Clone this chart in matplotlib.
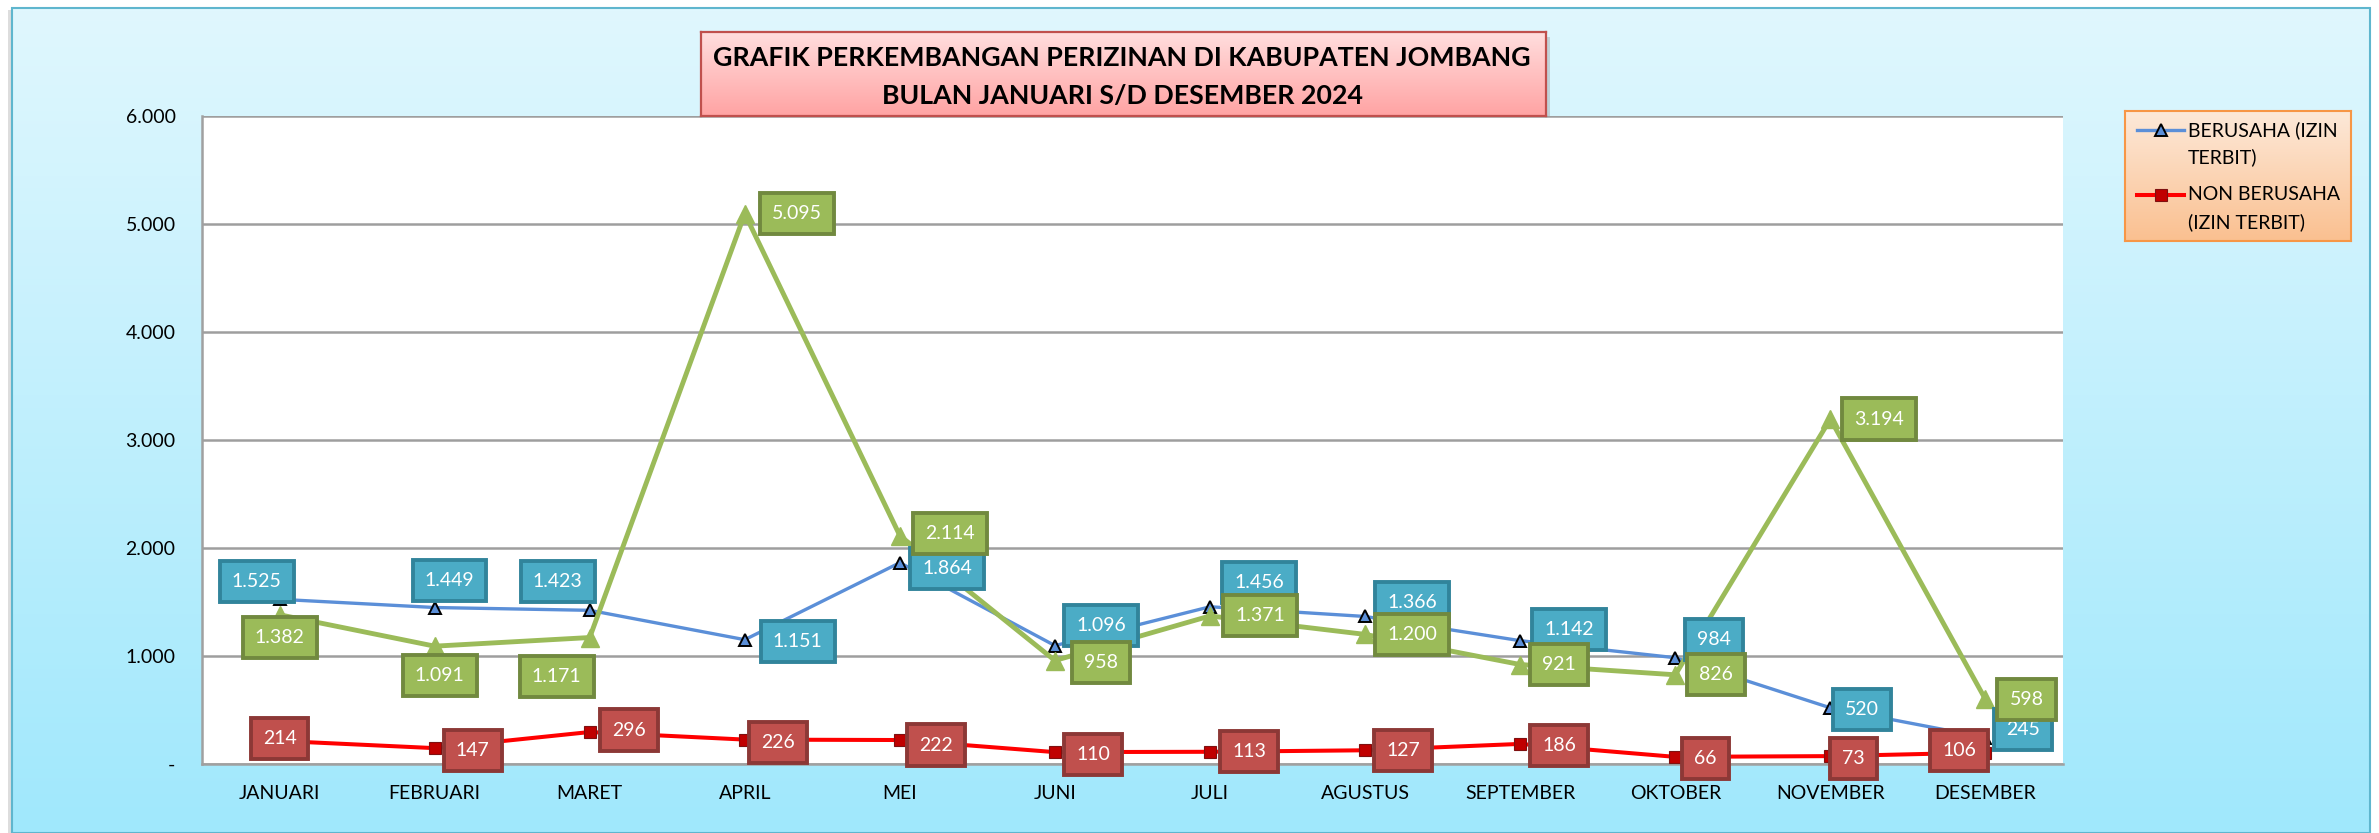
import numpy as np
import matplotlib.pyplot as plt
from matplotlib.colors import LinearSegmentedColormap
from matplotlib.patches import Rectangle
from matplotlib.lines import Line2D

plt.rcParams['font.family'] = ['Lato', 'DejaVu Sans']

# data
BULAN = ['JANUARI', 'FEBRUARI', 'MARET', 'APRIL', 'MEI', 'JUNI', 'JULI',
         'AGUSTUS', 'SEPTEMBER', 'OKTOBER', 'NOVEMBER', 'DESEMBER']
BERUSAHA = [1525, 1449, 1423, 1151, 1864, 1096, 1456, 1366, 1142, 984, 520, 245]
NON_BERUSAHA = [214, 147, 296, 226, 222, 110, 113, 127, 186, 66, 73, 106]
HIJAU = [1382, 1091, 1171, 5095, 2114, 958, 1371, 1200, 921, 826, 3194, 598]
Y_TICKS = [0, 1000, 2000, 3000, 4000, 5000, 6000]
LEG_BERUSAHA = ['BERUSAHA (IZIN', 'TERBIT)']
LEG_NON = ['NON BERUSAHA', '(IZIN TERBIT)']
JUDUL = ['GRAFIK PERKEMBANGAN PERIZINAN DI KABUPATEN JOMBANG',
         'BULAN JANUARI S/D DESEMBER 2024']

# label offsets in pixels (x right, y up)
OFF_BIRU = [(-23, 18), (15, 27), (-32, 29), (53, -2), (47, -6), (46, 20),
            (49, 24), (47, 14), (49, 11), (39, 18), (32, -2), (38, 8)]
OFF_MERAH = [(0, 2), (38, -2), (39, 2), (33, -3), (36, -5), (38, -2),
             (39, 0), (38, 0), (39, -2), (30, -2), (23, -2), (-26, 2)]
OFF_HIJAU = [(0, -23), (5, -29), (-33, -39), (52, 0), (50, 2), (46, -2),
             (50, 0), (47, 0), (39, 0), (41, 0), (49, 0), (41, 0)]

W, H = 2379, 833
BIRU = '#5B8FD8'

def fx(px):
    return px / W

def fy(py):
    return 1 - py / H

def fmt(v):
    if v == 0:
        return '-'
    return f'{v:,}'.replace(',', '.')

fig = plt.figure(figsize=(W / 100, H / 100), dpi=100, facecolor='white')

# 1. background gradient
bg = fig.add_axes([0, 0, 1, 1], zorder=-10)
bg.set_xlim(0, 1)
bg.set_ylim(0, 1)
bg.axis('off')
grad = np.linspace(0, 1, 256).reshape(-1, 1)
cm_bg = LinearSegmentedColormap.from_list('bg', ['#E0F7FE', '#A0E8FC'])
bg.add_patch(Rectangle((fx(8), 0), fx(6), fy(10), fc='#DDDDDD', ec='none', zorder=0))
bg.imshow(grad, extent=[fx(12), fx(2370), 0, fy(8)], aspect='auto', cmap=cm_bg,
          zorder=1)
bg.add_patch(Rectangle((fx(12), 0), fx(2370) - fx(12), fy(8), fill=False,
                       ec='#5FB6CE', lw=1.5, zorder=2))

# 2. main plot
ax = fig.add_axes([fx(202), fy(764), fx(2063) - fx(202), fy(116) - fy(764)], zorder=1)
ax.set_facecolor('white')
x = np.arange(len(BULAN))

ax.plot(x, BERUSAHA, color=BIRU, lw=2.4, marker='^', ms=8.5,
        mfc=BIRU, mec='black', mew=1.4, zorder=3)
ax.plot(x, NON_BERUSAHA, color='#FF0000', lw=2.9, marker='s', ms=8.5,
        mfc='#C00000', mec='#7F1010', mew=0.8, zorder=3)
ax.plot(x, HIJAU, color='#9BBB59', lw=3.5, marker='^', ms=13,
        mfc='#9BBB59', mec='#9BBB59', zorder=3)

def labels(vals, offs, fc, ec, z):
    for i, v in enumerate(vals):
        ax.annotate(fmt(v), (x[i], v), xytext=offs[i],
                    textcoords='offset pixels', ha='center', va='center',
                    fontsize=14, color='white', zorder=z, annotation_clip=False,
                    bbox=dict(boxstyle='square,pad=0.62', fc=fc, ec=ec, lw=2.8))

labels(NON_BERUSAHA, OFF_MERAH, '#C0504D', '#8C3836', 6)
labels(BERUSAHA, OFF_BIRU, '#4BACC6', '#31849B', 7)
labels(HIJAU, OFF_HIJAU, '#9BBB59', '#71893F', 8)

ax.set_xlim(-0.5, len(BULAN) - 0.5)
ax.set_ylim(0, 6000)
ax.set_yticks(Y_TICKS)
ax.set_yticklabels([fmt(t) for t in Y_TICKS])
ax.set_xticks(x)
ax.set_xticklabels(BULAN)
ax.tick_params(axis='x', length=0, pad=15, labelsize=14)
ax.tick_params(axis='y', length=0, pad=19, labelsize=14)
ax.grid(axis='y', color='#9E9E9E', lw=1.8, zorder=0)
ax.set_axisbelow(True)
for s in ['top', 'right']:
    ax.spines[s].set_visible(False)
for s in ['left', 'bottom']:
    ax.spines[s].set_color('#A0A0A0')
    ax.spines[s].set_linewidth(1.8)

# 3. title box
bg.add_patch(Rectangle((fx(705), fy(121)), fx(845) - fx(0), fy(32) - fy(116),
                       fc='#808080', alpha=0.3, ec='none', zorder=4))
tax = fig.add_axes([fx(701), fy(116), fx(845) - fx(0), fy(32) - fy(116)], zorder=5)
cm_t = LinearSegmentedColormap.from_list('t', ['#FFDEDE', '#FFA3A3'])
tax.imshow(grad, extent=[0, 1, 0, 1], aspect='auto', cmap=cm_t)
tax.set_xlim(0, 1)
tax.set_ylim(0, 1)
tax.set_xticks([])
tax.set_yticks([])
for s in tax.spines.values():
    s.set_color('#C0504D')
    s.set_linewidth(1.6)
fig.text(fx(1122), fy(58), JUDUL[0], ha='center', va='center', fontsize=19.3,
         fontweight='bold', zorder=6)
fig.text(fx(1122), fy(96), JUDUL[1], ha='center', va='center', fontsize=19.3,
         fontweight='bold', zorder=6)

# 4. legend
lax = fig.add_axes([fx(2125), fy(241), fx(226), fy(111) - fy(241)], zorder=5)
cm_l = LinearSegmentedColormap.from_list('l', ['#FDE9D9', '#FAC090'])
lax.imshow(grad, extent=[0, 1, 0, 1], aspect='auto', cmap=cm_l)
lax.set_xlim(0, 1)
lax.set_ylim(0, 1)
lax.set_xticks([])
lax.set_yticks([])
for s in lax.spines.values():
    s.set_color('#F79646')
    s.set_linewidth(1.5)

fig.add_artist(Line2D([fx(2137), fx(2184)], [fy(130), fy(130)], color=BIRU, lw=2.4,
                      zorder=7))
fig.add_artist(Line2D([fx(2161)], [fy(130)], marker='^', ms=8.5, mfc=BIRU,
                      mec='black', mew=1.4, zorder=8))
fig.add_artist(Line2D([fx(2137), fx(2184)], [fy(195), fy(195)], color='#FF0000', lw=2.9,
                      zorder=7))
fig.add_artist(Line2D([fx(2161)], [fy(195)], marker='s', ms=8.5, mfc='#C00000',
                      mec='#7F1010', mew=0.8, zorder=8))
for txt, py in zip(LEG_BERUSAHA + LEG_NON, [130, 157, 195, 222]):
    fig.text(fx(2188), fy(py), txt, ha='left', va='center', fontsize=14, zorder=9)

fig.savefig('out.png', dpi=100, facecolor='white')
